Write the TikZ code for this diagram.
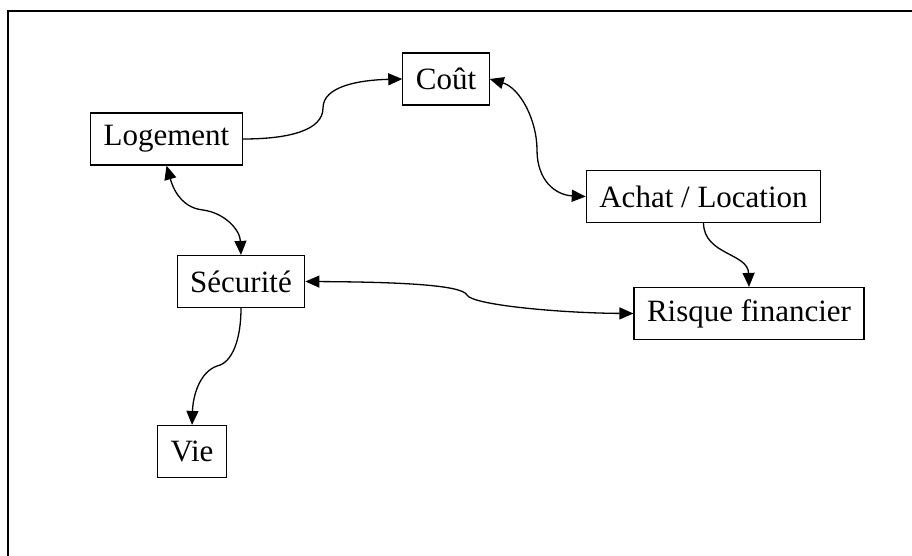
\documentclass[tikz,border=0pt]{standalone}
\usepackage{fontspec}
\setmainfont{Liberation Serif}
\usetikzlibrary{arrows.meta}
\begin{document}
\begin{tikzpicture}[x=1pt,y=-1pt,
  box/.style={draw, line width=1.2pt, minimum height=52pt, inner xsep=13pt, font=\fontsize{31}{36}\selectfont},
  conn/.style={line width=1.3pt},
  >={Triangle[length=14pt,width=12pt]}]
\useasboundingbox (0,0) rectangle (912,556);
\draw[line width=1.3pt] (8,560) -- (8,11) -- (916,11);
\node[box] (log) at (166.5,139) {Logement};
\node[box] (cout) at (446,79) {Coût};
\node[box] (achat) at (703.5,196.5) {Achat / Location};
\node[box] (sec) at (241,281.5) {Sécurité};
\node[box] (risque) at (749,313.5) {Risque financier};
\node[box] (vie) at (192,451.5) {Vie};
\draw[conn,->] (log.east) .. controls (290,139) and (323,130) .. (323,108) .. controls (323,86) and (360,80) .. (cout.west);
\draw[conn,<->] (cout.east) .. controls (520,88) and (537,120) .. (537,150) .. controls (537,180) and (555,195) .. (achat.west);
\draw[conn,->] (achat.south) .. controls (704,255) and (748,253) .. (risque.north);
\draw[conn,<->] (log.south) .. controls (175,195) and (185,208) .. (203,210) .. controls (225,213) and (240,230) .. (sec.north);
\draw[conn,<->] (sec.east) .. controls (400,282) and (462,285) .. (467,295) .. controls (472,305) and (560,313) .. (risque.west);
\draw[conn,->] (sec.south) .. controls (241,340) and (232,363) .. (217,366) .. controls (200,372) and (193,395) .. (vie.north);
\end{tikzpicture}
\end{document}
